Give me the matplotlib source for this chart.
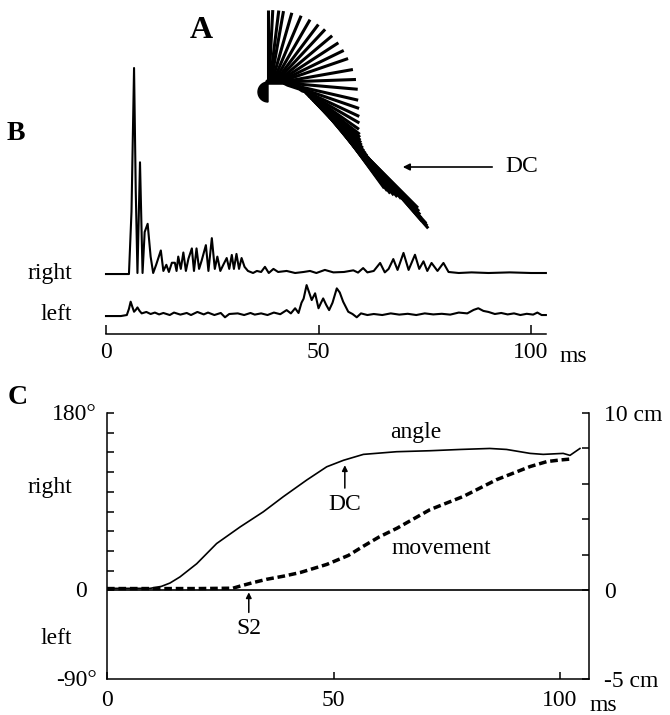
import numpy as np
import matplotlib
matplotlib.use("Agg")
import matplotlib.pyplot as plt
from matplotlib.patches import Wedge
from matplotlib.collections import LineCollection

plt.rcParams['font.family'] = ['Liberation Serif', 'DejaVu Serif']
plt.rcParams['font.size'] = 17

# ---- A: stick positions (angle clockwise from vertical, base point in a.u.)
fan_angle = [0, 3, 7, 10, 16, 23, 30, 37, 43, 50, 57, 64, 71, 80, 88, 95, 103, 109, 115, 120, 125]
fan_x = [28, 29, 30, 31, 32, 33, 34, 35, 36, 37, 38, 39, 40, 42, 44, 46, 48, 51, 54, 57, 60]
fan_y = [158, 158, 158, 158, 158, 158, 158, 158, 158, 158, 158, 158, 158, 158, 158, 157, 156, 155, 154, 153, 152]
body_angle = [128, 129.5, 131, 132, 133, 134, 135, 135.5, 136, 136.5,
              137, 137.5, 138, 139, 140, 141, 142, 143, 144, 143.5,
              143, 142, 141, 139.5, 138, 137, 136, 135.5, 135, 136,
              137, 138, 139, 138.5, 138, 138.5, 139]
body_x = [63, 64.5, 66, 67.5, 69, 71, 73, 75, 77, 79.5,
          82, 84.5, 87, 89.5, 92, 94.5, 97, 99.5, 102, 104.5,
          107, 109.5, 112, 114.5, 117, 119.5, 122, 124.5, 127, 129,
          131, 133, 135, 136.5, 138, 139.5, 141]
body_y = [150, 148.5, 147, 145.5, 144, 142, 140, 138, 136, 133.5,
          131, 128.5, 126, 123, 120, 117.5, 115, 112.5, 110, 107,
          104, 101.5, 99, 96, 93, 90.5, 88, 85.5, 83, 80.5,
          78, 75.5, 73, 71.5, 70, 68, 66]
stick_len = 72

# ---- B: EMG traces (ms, a.u.)
right_t = [0, 5.4, 6.0, 6.6, 7.0, 7.4, 8.0, 8.6, 9.1, 9.8,
           10.5, 11.1, 11.8, 12.9, 13.5, 14.2, 14.8, 15.5, 16.2, 16.6,
           17.0, 17.6, 18.2, 18.8, 19.4, 20.2, 20.7, 21.3, 21.9, 22.5,
           23.5, 24.1, 24.9, 25.6, 26.2, 26.9, 27.6, 28.4, 29.0, 29.6,
           30.1, 30.7, 31.3, 31.9, 32.6, 33.4, 34.6, 35.5, 36.5, 37.4,
           38.3, 39.4, 40.5, 42.5, 44.5, 46.5, 48.0, 49.5, 51.5, 53.5,
           56.0, 58.2, 59.3, 60.5, 61.5, 63.0, 64.5, 65.6, 66.5, 67.6,
           68.6, 70.0, 71.2, 72.7, 73.7, 74.7, 75.6, 76.6, 78.0, 79.4,
           80.6, 83, 86, 90, 95, 100, 103.5]
right_v = [-0.5, -0.5, 30, 100, 40, 0, 54, 0, 20, 24,
           8, 0, 4, 11, 1, 4, 0.5, 5, 5, 1,
           8, 2, 10, 1, 7, 12, 1, 12, 2, 6,
           13.6, 1, 17, 2, 8, 1, 4, 7.3, 2, 8.8,
           2, 9.3, 2, 7.3, 3, 1, 0, 1, 0.5, 3,
           0, 2, 0.5, 1, 0, 0.5, 1, 0, 1.5, 0.3,
           0.5, 1.3, 0.2, 2.4, 0.3, 1, 4.9, 0.3, 2, 6.8,
           1.5, 9.8, 1.5, 8.9, 2, 5.7, 1, 4.9, 1, 4.9,
           0.5, 0, 0.3, 0, 0.3, 0, 0]
left_t = [0, 3.5, 4.9, 5.4, 5.8, 6.2, 6.6, 7.0, 7.4, 7.9,
          8.4, 9.5, 10.5, 11.5, 12.5, 13.5, 15, 16, 17.5, 19,
          20, 21.5, 23, 24, 25.5, 27, 28, 29, 31, 32.5,
          34, 35, 36.5, 38, 39.5, 41, 42.5, 43.5, 44.5, 45.3,
          46.0, 46.5, 47.2, 47.8, 48.4, 49.2, 50.0, 50.6, 51.1, 51.8,
          52.5, 53.3, 54.3, 55.0, 55.8, 57.0, 58, 59, 60, 61.5,
          63, 65, 67, 69, 71, 73, 75, 77, 79, 81,
          83, 85, 86.5, 87.6, 88.8, 90, 91.5, 93, 94.5, 96,
          97.5, 99, 100.5, 101.5, 102.5, 103.5]
left_v = [-0.5, -0.5, 0, 3, 6.5, 4, 1.6, 2.5, 3.7, 2,
          0.8, 1.5, 0.5, 1.2, 0.3, 1, 0, 1.2, 0.2, 1,
          0, 1.5, 0.3, 1.2, 0, 1, -1.1, 0.5, 0.8, 0,
          1, 0.2, 0.8, 0, 1.2, 0.4, 2.4, 0.8, 3.3, 1,
          6, 8, 14.6, 11, 7.3, 10.6, 3.3, 6, 8.1, 5,
          2.4, 6, 13, 11, 6.5, 1.6, 0.5, -1.1, 0.8, 0,
          0.5, 0, 0.8, 0.2, 0.6, 0, 0.8, 0.3, 0.6, 0.2,
          1.2, 0.8, 2.5, 3.3, 2, 1.5, 0.5, 1, 0.3, 0.8,
          0, 0.6, 0.2, 1.2, 0, 0]
left_offset = -20.5

# ---- C: angle (deg) and movement (cm)
angle_t = [0, 5, 9.5, 12, 13.9, 16.1, 19.8, 24.2, 29.4, 34.5, 38.9, 44.1, 48.5,
           52.2, 56.6, 63.9, 71.3, 78, 84.5, 88.2, 93.4, 96.3, 100.7, 102.2, 104.4]
angle_deg = [2, 2, 2, 4, 7.4, 13.6, 27, 47.5, 64.4, 79.7, 95, 112, 125.4,
             132, 138, 140.7, 141.7, 143, 144, 143, 139, 138, 139, 137, 144]
move_t = [0, 10, 20, 27.8, 29.4, 32, 35.2, 39, 42.6, 48.5, 53.3,
          56.6, 60, 64, 71.3, 78.7, 86, 93.4, 97.1, 100, 102.2]
move_cm = [0.1, 0.1, 0.1, 0.12, 0.24, 0.42, 0.62, 0.8, 1.0, 1.46, 1.97,
           2.49, 3.0, 3.5, 4.55, 5.3, 6.24, 6.98, 7.26, 7.35, 7.4]

W, H = 670, 715


def box(x0, y0, x1, y1):
    # pixel box (top-left origin) -> figure fraction
    return [x0 / W, 1 - y1 / H, (x1 - x0) / W, (y1 - y0) / H]


fig = plt.figure(figsize=(6.7, 7.15), dpi=100)

# ---------------- A
axA = fig.add_axes(box(240, 0, 560, 240))
axA.set_xlim(0, 320)
axA.set_ylim(0, 240)
axA.axis('off')
a = np.radians(fan_angle + body_angle)
bx = np.array(fan_x + body_x, float)
by = np.array(fan_y + body_y, float)
tx = bx + stick_len * np.sin(a)
ty = by + stick_len * np.cos(a)
segs = [[(x0, y0), (x1, y1)] for x0, y0, x1, y1 in zip(bx, by, tx, ty)]
axA.add_collection(LineCollection(segs, colors='k', linewidths=2.2))
n_fan = len(fan_angle)
axA.plot(bx[:n_fan + 1], by[:n_fan + 1], color='k', lw=4, solid_capstyle='round')
axA.add_patch(Wedge((bx[0], by[0] - 10), 10, 90, 270, color='k'))
axA.annotate('', xy=(160, 73), xytext=(255, 73),
             arrowprops=dict(arrowstyle='-|>', lw=1.2, color='k', mutation_scale=10))
axA.text(265, 73, 'DC', ha='left', va='center')

fig.text(201 / W, 1 - 30 / H, 'A', ha='center', va='center', fontsize=23, fontweight='bold')
fig.text(16 / W, 1 - 134 / H, 'B', ha='center', va='center', fontsize=20, fontweight='bold')
fig.text(18 / W, 1 - 398 / H, 'C', ha='center', va='center', fontsize=20, fontweight='bold')

# ---------------- B
axB = fig.add_axes(box(97.5, 59.8, 556.5, 346.8))
axB.set_facecolor('none')
axB.set_xlim(-2, 106)
axB.set_ylim(-36, 104)
axB.plot(right_t, right_v, color='k', lw=1.5)
axB.plot(left_t, np.array(left_v) + left_offset, color='k', lw=1.5)
for s in ['left', 'right', 'top']:
    axB.spines[s].set_visible(False)
axB.spines['bottom'].set_position(('data', -29.8))
axB.spines['bottom'].set_bounds(0, 103.5)
axB.spines['bottom'].set_linewidth(1.1)
axB.set_yticks([])
axB.set_xticks([0, 50, 100])
axB.set_xticklabels(['0', '50', '100'])
axB.tick_params(axis='x', direction='in', length=6.5, width=1.1, pad=6)
axB.text(106.6, -43.4, 'ms', ha='left', va='baseline')
axB.text(-8, -3, 'right', ha='right', va='baseline')
axB.text(-8, -23, 'left', ha='right', va='baseline')

# ---------------- C
axC = fig.add_axes(box(107, 413, 589, 679))
axC.set_xlim(0, 106.4)
axC.set_ylim(-90, 180)
axC.plot(angle_t, angle_deg, color='k', lw=1.2)
axC.axhline(0, color='k', lw=1.2)
axC.spines['top'].set_visible(False)
axC.spines['right'].set_visible(False)
for s in ['left', 'bottom']:
    axC.spines[s].set_linewidth(1.1)
axC.set_yticks([0, 180])
axC.set_yticks(np.arange(20, 180, 20), minor=True)
axC.tick_params(axis='y', which='both', direction='in', length=5, width=1.1, labelleft=False)
axC.set_xticks([0, 50, 100])
axC.set_xticklabels(['0', '50', '100'])
axC.tick_params(axis='x', direction='in', length=5, width=1.1, pad=8)
axC.text(106.6, -122, 'ms', ha='left', va='baseline')

ytr = axC.get_yaxis_transform()
axC.text(-0.0207, 173, '180°', transform=ytr, ha='right', va='baseline')
axC.text(-0.0415, -7, '0', transform=ytr, ha='right', va='baseline')
axC.text(-0.0207, -96.6, '-90°', transform=ytr, ha='right', va='baseline')
axC.text(-7.7, 98.7, 'right', ha='right', va='baseline')
axC.text(-7.7, -54, 'left', ha='right', va='baseline')
axC.text(68.2, 159.7, 'angle', ha='center', va='center')

axC.annotate('DC', xy=(52.5, 127), xytext=(52.5, 87.5), ha='center', va='center',
             arrowprops=dict(arrowstyle='-|>', lw=1.1, color='k', mutation_scale=8, shrinkB=0))
axC.annotate('S2', xy=(31.3, -2), xytext=(31.3, -38.7), ha='center', va='center',
             arrowprops=dict(arrowstyle='-|>', lw=1.1, color='k', mutation_scale=8, shrinkB=0))

axM = axC.twinx()
axM.set_ylim(-5, 10)
axM.plot(move_t, move_cm, color='k', lw=2.5, linestyle=(0, (2.2, 1.1)))
axM.text(73.7, 2.34, 'movement', ha='center', va='center')
for s in ['top', 'left', 'bottom']:
    axM.spines[s].set_visible(False)
axM.spines['right'].set_linewidth(1.1)
axM.set_yticks([-5, 0, 10])
axM.set_yticklabels(['-5 cm', '0', '10 cm'])
axM.set_yticks([2, 4, 6, 8], minor=True)
axM.tick_params(axis='y', which='both', direction='in', length=5, width=1.1, pad=11)

fig.savefig('out.png', dpi=100)
